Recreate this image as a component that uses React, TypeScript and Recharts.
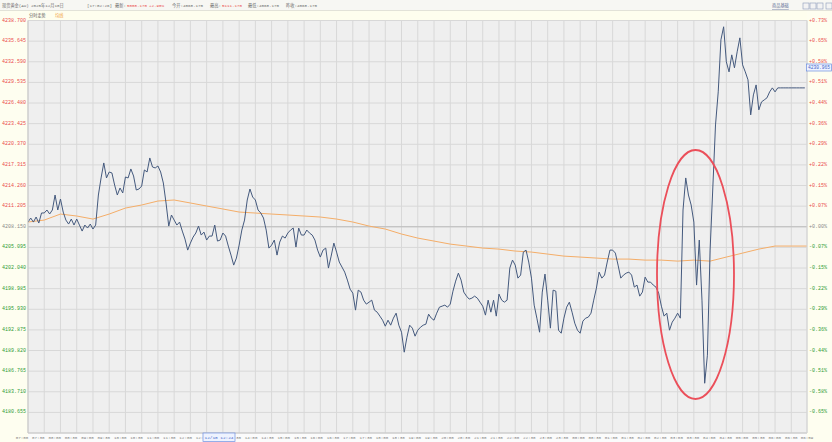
import { LineChart, Line, XAxis, YAxis, CartesianGrid, ReferenceLine } from 'recharts'

// Intraday gold chart (分时走势) with the moving average and a red annotation ellipse.

const prevClose = 4208.15

const timeLabels = [
  '07:00', '07:30', '08:00', '08:30', '09:00', '09:30', '10:00', '10:30', '11:00', '11:30',
  '12:00', '12:30', '13:00', '13:30', '14:00', '14:30', '15:00', '15:30', '16:00', '16:30',
  '17:00', '17:30', '18:00', '18:30', '19:00', '19:30', '20:00', '20:30', '21:00', '21:30',
  '22:00', '22:30', '23:00', '23:30', '00:00', '00:30', '01:00', '01:30', '02:00', '02:30',
  '03:00', '03:30', '04:00', '04:30', '05:00', '05:30', '06:00', '06:30', '06:59',
]

const priceTicks = [
  4238.7, 4235.645, 4232.59, 4229.535, 4226.48, 4223.425, 4220.37, 4217.315, 4214.26, 4211.205,
  4208.15, 4205.095, 4202.04, 4198.985, 4195.93, 4192.875, 4189.82, 4186.765, 4183.71, 4180.655,
]

const percentLabels = [
  '+0.73%', '+0.65%', '+0.58%', '+0.51%', '+0.44%', '+0.36%', '+0.29%', '+0.22%', '+0.15%', '+0.07%',
  '+0.00%', '-0.07%', '-0.15%', '-0.22%', '-0.29%', '-0.36%', '-0.44%', '-0.51%', '-0.58%', '-0.65%',
]

// prix toutes les 5 minutes depuis 07:00
const priceSeries = [
  4208.84, 4209.44, 4208.84, 4209.59, 4208.70, 4210.19, 4210.19, 4210.63, 4210.04, 4210.63,
  4212.85, 4210.63, 4212.26, 4210.33, 4209.14, 4208.55, 4209.29, 4208.40, 4209.29, 4208.40,
  4207.51, 4208.40, 4207.96, 4208.55, 4207.81, 4208.40, 4212.85, 4215.38, 4217.60, 4215.38,
  4216.26, 4216.12, 4214.33, 4212.85, 4213.89, 4213.15, 4215.52, 4215.38, 4216.71, 4215.67,
  4213.59, 4213.74, 4214.18, 4216.56, 4216.26, 4218.34, 4217.00, 4216.86, 4217.15, 4216.26,
  4214.63, 4211.67, 4208.25, 4209.89, 4209.14, 4208.40, 4208.84, 4207.51, 4206.32, 4204.69,
  4205.73, 4206.62, 4207.22, 4208.25, 4206.92, 4207.36, 4206.18, 4206.77, 4206.77, 4208.40,
  4206.03, 4206.18, 4207.22, 4206.77, 4205.29, 4203.95, 4202.47, 4203.51, 4205.43, 4207.66,
  4209.14, 4212.11, 4213.74, 4212.55, 4212.11, 4210.63, 4210.19, 4209.44, 4207.66, 4204.99,
  4205.43, 4206.18, 4203.95, 4205.88, 4206.77, 4206.47, 4207.22, 4207.66, 4207.96, 4205.14,
  4207.96, 4206.92, 4206.92, 4207.66, 4207.22, 4206.92, 4206.18, 4204.69, 4203.66, 4204.69,
  4204.99, 4202.03, 4203.80, 4205.73, 4204.40, 4202.92, 4202.18, 4201.43, 4200.25, 4198.91,
  4198.32, 4195.80, 4198.76, 4198.47, 4197.28, 4196.69, 4196.98, 4197.28, 4195.80, 4195.50,
  4194.91, 4194.31, 4193.42, 4194.31, 4193.57, 4194.61, 4195.35, 4193.57, 4192.53, 4189.57,
  4191.79, 4193.57, 4193.13, 4191.94, 4192.83, 4193.27, 4193.57, 4193.72, 4195.20, 4194.61,
  4194.31, 4195.35, 4196.24, 4196.39, 4196.54, 4196.24, 4196.69, 4198.61, 4200.10, 4201.28,
  4200.25, 4198.47, 4197.87, 4197.43, 4197.58, 4197.87, 4197.58, 4196.98, 4196.39, 4195.06,
  4197.28, 4195.50, 4197.28, 4194.91, 4198.17, 4197.28, 4196.98, 4197.28, 4202.03, 4203.21,
  4202.47, 4200.54, 4200.99, 4204.40, 4204.69, 4202.92, 4200.54, 4196.54, 4194.61, 4192.53,
  4198.47, 4201.14, 4197.28, 4193.13, 4198.76, 4198.61, 4192.83, 4192.38, 4194.61, 4196.24,
  4196.98, 4195.50, 4193.87, 4192.83, 4192.38, 4194.17, 4194.61, 4194.76, 4195.35, 4197.28,
  4199.06, 4201.43, 4200.54, 4200.99, 4202.92, 4204.69, 4204.69, 4204.25, 4202.47, 4200.54,
  4200.99, 4201.28, 4201.43, 4200.99, 4199.21, 4199.51, 4197.87, 4198.47, 4200.69, 4199.95,
  4199.95, 4199.51, 4199.21, 4198.32, 4196.39, 4194.91, 4195.35, 4192.83, 4194.02, 4194.61,
  4195.35, 4194.61, 4210.63, 4215.38, 4212.85, 4211.37, 4208.84, 4199.51, 4206.18, 4197.28,
  4184.97, 4189.12, 4204.69, 4213.89, 4223.23, 4228.13, 4235.84, 4237.77, 4232.58, 4231.09,
  4233.61, 4231.69, 4234.06, 4236.13, 4232.13, 4231.09, 4229.91, 4224.72, 4227.68, 4229.16,
  4225.46, 4226.64, 4226.94, 4227.24, 4228.13, 4228.72, 4228.13, 4228.72, 4228.72, 4228.72,
  4228.72, 4228.72, 4228.72, 4228.72, 4228.72, 4228.72, 4228.72, 4228.72,
]

// moyenne (均线) toutes les 30 minutes, dernier point à 06:59
const avgSeries = [
  4208.85, 4209.14, 4210.03, 4209.74, 4209.29, 4210.03, 4210.92, 4211.37, 4211.96, 4212.11,
  4211.67, 4211.22, 4210.78, 4210.33, 4210.18, 4210.03, 4209.89, 4209.74, 4209.59, 4209.29,
  4208.85, 4208.25, 4207.81, 4207.07, 4206.47, 4206.03, 4205.58, 4205.29, 4204.99, 4204.84,
  4204.55, 4204.40, 4204.10, 4203.80, 4203.66, 4203.51, 4203.36, 4203.36, 4203.21, 4203.21,
  4203.06, 4203.21, 4203.06, 4203.66, 4204.25, 4204.84, 4205.29, 4205.29, 4205.29,
]

const tickMinutes = timeLabels.map((_, i) => (i === timeLabels.length - 1 ? 1439 : i * 30))
const priceData = priceSeries.map((price, i) => ({ t: i * 5, price }))
const avgData = avgSeries.map((avg, i) => ({ t: tickMinutes[i], avg }))

const monoFont = "'Liberation Mono', 'Noto Sans CJK SC', monospace"
const upColor = '#ea4b4b'
const downColor = '#2f9b36'
const flatColor = '#8a8a8a'

function PriceTick(props: any) {
  const { x, y, payload } = props
  const v = payload.value as number
  const color = Math.abs(v - prevClose) < 0.001 ? flatColor : v > prevClose ? upColor : downColor
  return (
    <text x={x} y={y} textAnchor="end" dominantBaseline="central" fontSize={5} fontFamily={monoFont} fill={color}>
      {v.toFixed(3)}
    </text>
  )
}

function PctTick(props: any) {
  const { x, y, payload } = props
  const v = payload.value as number
  const idx = priceTicks.findIndex(p => Math.abs(p - v) < 0.001)
  const color = Math.abs(v - prevClose) < 0.001 ? flatColor : v > prevClose ? upColor : downColor
  return (
    <text x={x} y={y} textAnchor="start" dominantBaseline="central" fontSize={5} fontFamily={monoFont} fill={color}>
      {percentLabels[idx]}
    </text>
  )
}

function TimeTick(props: any) {
  const { x, y, payload } = props
  const v = payload.value as number
  const idx = tickMinutes.indexOf(v)
  // les libellés glissent un peu vers la gauche au début de l'axe
  const shift = -6 * (1 - v / 1439)
  return (
    <text x={x + shift} y={y + 4.5} textAnchor="middle" dominantBaseline="central" fontSize={4.2} fontFamily={monoFont} fill="#808080">
      {timeLabels[idx]}
    </text>
  )
}

export default function App() {
  const hdr = { fontSize: 4.2, fontFamily: monoFont }
  return (
    <div style={{ position: 'absolute', left: 0, top: 0, width: 832, height: 442, background: '#fbfbfb', overflow: 'hidden' }}>
      {/* fonds : bandeau, panneaux d'axes */}
      <div style={{ position: 'absolute', left: 0, top: 0, width: 832, height: 11, background: '#f7f7f3', borderBottom: '1px solid #e2e2d8', boxSizing: 'border-box' }} />
      <div style={{ position: 'absolute', left: 0, top: 11, width: 832, height: 9, background: '#fefeee' }} />
      <div style={{ position: 'absolute', left: 0, top: 11, width: 28, height: 431, background: '#fefef0' }} />
      <div style={{ position: 'absolute', left: 807, top: 11, width: 25, height: 431, background: '#fefef0' }} />

      <div style={{ position: 'absolute', left: 0, top: 0 }}>
        <LineChart width={832} height={442} margin={{ top: 20.5, right: 0, bottom: 0, left: 0 }}>
          <CartesianGrid yAxisId="left" stroke="#d8d8d8" fill="#efefef" />
          <XAxis
            type="number"
            dataKey="t"
            domain={[0, 1439]}
            ticks={tickMinutes}
            interval={0}
            height={9}
            tickSize={0}
            tickMargin={0}
            tickLine={false}
            axisLine={{ stroke: '#c9c9c9' }}
            tick={<TimeTick />}
            allowDataOverflow
          />
          <YAxis
            yAxisId="left"
            type="number"
            domain={[4177.6, 4238.7]}
            ticks={priceTicks}
            interval={0}
            width={28}
            tickSize={0}
            tickMargin={2}
            tickLine={false}
            axisLine={{ stroke: '#c9c9c9' }}
            tick={<PriceTick />}
            allowDataOverflow
          />
          <YAxis
            yAxisId="right"
            orientation="right"
            type="number"
            domain={[4177.6, 4238.7]}
            ticks={priceTicks}
            interval={0}
            width={25}
            tickSize={0}
            tickMargin={2}
            tickLine={false}
            axisLine={{ stroke: '#d5d5d5' }}
            tick={<PctTick />}
            allowDataOverflow
          />
          <ReferenceLine yAxisId="left" y={prevClose} stroke="#bcbcbc" />
          <Line yAxisId="left" data={avgData} dataKey="avg" type="linear" stroke="#f4ad68" strokeWidth={1} dot={false} isAnimationActive={false} />
          <Line yAxisId="left" data={priceData} dataKey="price" type="linear" stroke="#44597d" strokeWidth={1} dot={false} isAnimationActive={false} />
        </LineChart>
      </div>

      {/* bandeau, annotations */}
      <svg width={832} height={442} style={{ position: 'absolute', left: 0, top: 0, pointerEvents: 'none' }}>
        <g {...hdr} fill="#6b6b6b" dominantBaseline="central">
          <text x={2} y={6}>现货黄金(AU)</text>
          <text x={31} y={6}>2025年12月10日</text>
          <text x={87} y={6}>[17:02:26]</text>
          <text x={115} y={6}>最新:</text>
          <text x={127} y={6} fill={upColor}>5008.170</text>
          <text x={149} y={6} fill={upColor}>+2.90%</text>
          <text x={172} y={6}>今开:4068.170</text>
          <text x={210} y={6}>最高:</text>
          <text x={222} y={6} fill={upColor}>5111.170</text>
          <text x={248} y={6}>最低:4068.170</text>
          <text x={286} y={6}>昨收:4068.170</text>
          <text x={772} y={6} fill="#5e6f96" textDecoration="underline">商品基础</text>
          <text x={29} y={15.5} fill="#555">分时走势</text>
          <text x={55} y={15.5} fill="#f0a040">均线</text>
        </g>
        <rect x={803} y={3} width={6} height={6} fill="#f3f3f3" stroke="#8c9bbb" strokeWidth={0.6} />
        <rect x={810} y={3} width={6} height={6} fill="#f3f3f3" stroke="#8c9bbb" strokeWidth={0.6} />
        <rect x={817} y={3} width={6} height={6} fill="#f3f3f3" stroke="#8c9bbb" strokeWidth={0.6} />
        <rect x={826} y={3} width={6} height={6} fill="#f3f3f3" stroke="#8c9bbb" strokeWidth={0.6} />

        <ellipse cx={695.5} cy={274.5} rx={38.5} ry={124.5} fill="none" stroke="#eb4f5a" strokeWidth={1.8} />

        <rect x={203} y={433} width={32} height={8.5} fill="#eef3ff" stroke="#6d8fe0" strokeWidth={0.7} />
        <text x={219} y={437.3} textAnchor="middle" dominantBaseline="central" fontSize={4.4} fontFamily={monoFont} fill="#3d63c9">12/10 12:24</text>
        <rect x={806.5} y={64} width={25} height={7} fill="#eef3ff" stroke="#6d8fe0" strokeWidth={0.7} />
        <text x={808} y={67.5} dominantBaseline="central" fontSize={4.6} fontFamily={monoFont} fill="#3d63c9">4230.965</text>
      </svg>
    </div>
  )
}
